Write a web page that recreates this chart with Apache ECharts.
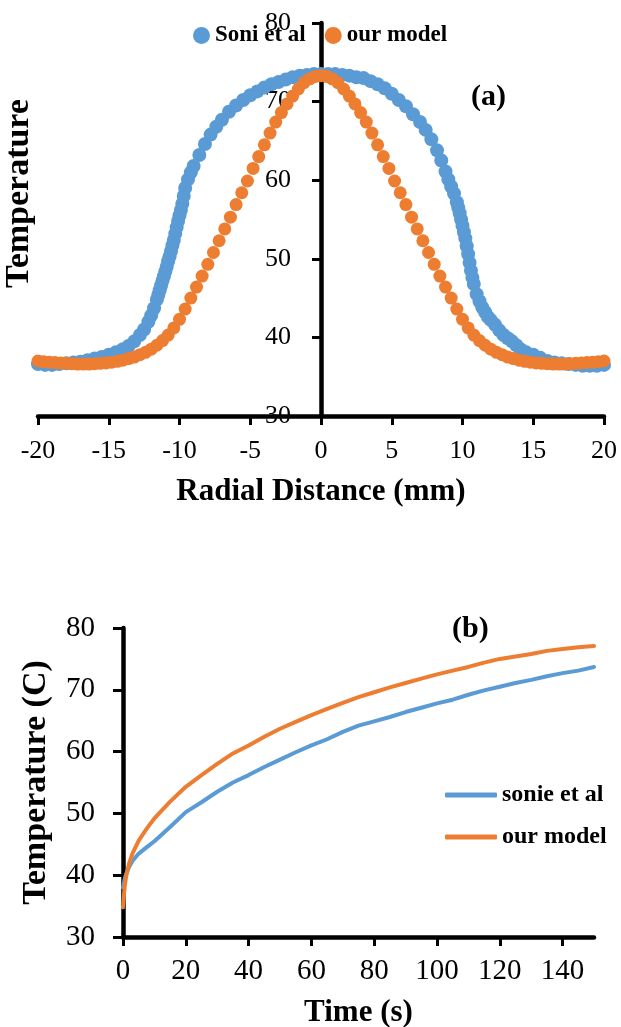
<!DOCTYPE html>
<html>
<head>
<meta charset="utf-8">
<script src="https://cdn.jsdelivr.net/npm/echarts@6/dist/echarts.min.js"></script>
<style>
  html, body { margin: 0; padding: 0; background: #fff; }
  #chart { width: 621px; height: 1027px; }
</style>
</head>
<body>
<div id="chart"></div>
<script>
// ---- (a) radial temperature profile ----
const radialTicks = [-20, -15, -10, -5, 0, 5, 10, 15, 20];

const soniX = [-20, -19.5, -19, -18.5, -18, -17.5, -17, -16.5, -16, -15.5, -15, -14.5, -14, -13.6, -13.2, -12.8, -12.5, -12.2, -12.0, -11.8, -11.6, -11.5, -11.4, -11.3, -11.2, -11.1, -11.0, -10.9, -10.8, -10.7, -10.6, -10.5, -10.4, -10.3, -10.2, -10.1, -10.0, -9.9, -9.8, -9.7, -9.6, -9.4, -9.2, -9.0, -8.6, -8.2, -7.8, -7.4, -7.0, -6.5, -6.0, -5.5, -5.0, -4.5, -4.0, -3.5, -3.0, -2.5, -2.0, -1.5, -1.0, -0.5, 0,
  0.5, 1.0, 1.5, 2.0, 2.5, 3.0, 3.5, 4.0, 4.5, 5.0, 5.5, 6.0, 6.5, 7.0, 7.4, 7.8, 8.2, 8.5, 8.8, 9.0, 9.2, 9.4, 9.6, 9.7, 9.8, 9.9, 10.0, 10.1, 10.2, 10.3, 10.4, 10.5, 10.6, 10.7, 10.8, 11.0, 11.2, 11.4, 11.6, 11.8, 12.0, 12.3, 12.6, 12.9, 13.2, 13.5, 13.8, 14.1, 14.5, 15.0, 15.5, 16.0, 16.5, 17.0, 17.5, 18.0, 18.5, 19.0, 19.5, 20.0];
const soniT = [36.6, 36.5, 36.5, 36.6, 36.7, 36.8, 36.9, 37.1, 37.3, 37.5, 37.8, 38.1, 38.5, 38.9, 39.5, 40.3, 41.0, 42.0, 42.8, 43.7, 44.8, 45.4, 46.0, 46.6, 47.2, 47.8, 48.4, 49.0, 49.7, 50.3, 51.0, 51.7, 52.4, 53.2, 54.0, 54.8, 55.5, 56.2, 57.0, 58.0, 59.0, 60.1, 61.0, 61.8, 63.2, 64.6, 65.8, 66.8, 67.7, 68.7, 69.5, 70.2, 70.8, 71.3, 71.8, 72.2, 72.5, 72.8, 73.1, 73.3, 73.4, 73.5, 73.5,
  73.5, 73.5, 73.4, 73.3, 73.1, 73.0, 72.6, 72.2, 71.7, 71.0, 70.2, 69.4, 68.4, 67.4, 66.4, 65.2, 63.8, 62.5, 61.1, 60.1, 59.2, 58.3, 57.2, 56.5, 55.8, 55.0, 54.2, 53.4, 52.6, 51.6, 50.6, 49.5, 48.5, 47.6, 46.8, 45.5, 44.6, 43.8, 43.2, 42.6, 42.2, 41.6, 40.9, 40.3, 39.9, 39.5, 39.0, 38.5, 38.1, 37.8, 37.4, 37.0, 36.8, 36.7, 36.6, 36.5, 36.4, 36.4, 36.4, 36.5];

const modelX = [-20, -19.6, -19.2, -18.8, -18.4, -18, -17.6, -17.2, -16.8, -16.4, -16, -15.6, -15.2, -14.8, -14.4, -14, -13.6, -13.2, -12.8, -12.4, -12, -11.6, -11.2, -10.8, -10.4, -10, -9.6, -9.2, -8.8, -8.4, -8, -7.6, -7.2, -6.8, -6.4, -6, -5.6, -5.2, -4.8, -4.4, -4, -3.6, -3.2, -2.8, -2.4, -2, -1.6, -1.2, -0.8, -0.4, 0,
  0.4, 0.8, 1.2, 1.6, 2, 2.4, 2.8, 3.2, 3.6, 4, 4.4, 4.8, 5.2, 5.6, 6, 6.4, 6.8, 7.2, 7.6, 8, 8.4, 8.8, 9.2, 9.6, 10, 10.4, 10.8, 11.2, 11.6, 12, 12.4, 12.8, 13.2, 13.6, 14, 14.4, 14.8, 15.2, 15.6, 16, 16.4, 16.8, 17.2, 17.6, 18, 18.4, 18.8, 19.2, 19.6, 20];
const modelT = [37.0, 36.9, 36.85, 36.8, 36.75, 36.7, 36.65, 36.6, 36.6, 36.6, 36.65, 36.7, 36.75, 36.85, 36.95, 37.1, 37.3, 37.5, 37.8, 38.1, 38.5, 39.0, 39.6, 40.3, 41.2, 42.3, 43.6, 45.0, 46.4, 47.8, 49.3, 50.8, 52.3, 53.8, 55.3, 56.9, 58.4, 59.9, 61.5, 63.0, 64.5, 66.0, 67.4, 68.6, 69.7, 70.7, 71.6, 72.4, 72.9, 73.2, 73.3,
  73.2, 72.9, 72.4, 71.6, 70.7, 69.7, 68.6, 67.4, 66.0, 64.5, 63.0, 61.5, 59.9, 58.4, 56.9, 55.3, 53.8, 52.3, 50.8, 49.3, 47.8, 46.4, 45.0, 43.6, 42.3, 41.2, 40.3, 39.6, 39.0, 38.5, 38.1, 37.8, 37.5, 37.3, 37.1, 36.95, 36.85, 36.75, 36.7, 36.65, 36.6, 36.6, 36.6, 36.65, 36.7, 36.75, 36.8, 36.85, 36.9, 37.0];

// ---- (b) temperature history ----
const timeTicks = [0, 20, 40, 60, 80, 100, 120, 140];
const timeS = [0, 0.5, 1, 2, 3, 5, 7.5, 10, 15, 20, 25, 30, 35, 40, 45, 50, 55, 60, 65, 70, 75, 80, 85, 90, 95, 100, 105, 110, 115, 120, 125, 130, 135, 140, 145, 150];
const sonieTemp = [38.0, 39.3, 40.2, 41.4, 42.3, 43.5, 44.5, 45.5, 47.8, 50.2, 51.8, 53.5, 55.0, 56.2, 57.5, 58.7, 59.9, 61.0, 62.0, 63.2, 64.2, 64.9, 65.6, 66.4, 67.1, 67.8, 68.4, 69.2, 69.9, 70.5, 71.1, 71.6, 72.2, 72.7, 73.1, 73.7];
const modelTemp = [34.8, 38.0, 39.8, 42.0, 43.5, 45.6, 47.5, 49.2, 51.9, 54.3, 56.2, 58.0, 59.7, 61.0, 62.4, 63.7, 64.8, 65.9, 66.9, 67.9, 68.8, 69.6, 70.4, 71.1, 71.8, 72.5, 73.1, 73.7, 74.4, 75.0, 75.4, 75.8, 76.3, 76.6, 76.9, 77.1];

const tempTicks = [30, 40, 50, 60, 70, 80];

const BLUE = '#5B9BD5';
const ORANGE = '#ED7D31';
const FONT = '"Liberation Serif", "Times New Roman", serif';

const zip = (xs, ys) => xs.map((x, i) => [x, ys[i]]);

const axisLineStyle = { color: '#000', width: 4.5 };
const tickStyle = { color: '#000', width: 3 };
const labelStyle = (size, margin) => ({ color: '#000', fontFamily: FONT, fontSize: size, margin: margin });
const nameStyle = (size) => ({ color: '#000', fontFamily: FONT, fontSize: size, fontWeight: 'bold' });

// plot areas
const gridA = { left: 38, top: 23, width: 566, height: 393 };
const gridB = { left: 123, top: 628, width: 471, height: 309 };

const chart = echarts.init(document.getElementById('chart'), null, { renderer: 'canvas' });

chart.setOption({
  animation: false,
  backgroundColor: '#fff',
  grid: [
    Object.assign({ outerBoundsMode: 'none', containLabel: false }, gridA),
    Object.assign({ outerBoundsMode: 'none', containLabel: false }, gridB)
  ],
  legend: [
    {
      data: ['Soni et al', 'our model'],
      left: 193, top: 24, padding: 0,
      icon: 'circle', itemWidth: 17, itemHeight: 17, itemGap: 19,
      selectedMode: false,
      textStyle: { color: '#000', fontFamily: FONT, fontWeight: 'bold', fontSize: 23 }
    },
    {
      data: ['sonie et al', 'our model'],
      orient: 'vertical',
      left: 445, top: 783, padding: 0,
      icon: 'roundRect', itemWidth: 52, itemHeight: 5, itemGap: 18,
      selectedMode: false,
      textStyle: { color: '#000', fontFamily: FONT, fontWeight: 'bold', fontSize: 24 }
    }
  ],
  xAxis: [
    {
      type: 'value', gridIndex: 0,
      min: -20, max: 20, interval: 5,
      axisLine: { onZero: false, lineStyle: axisLineStyle },
      axisTick: { length: 9, lineStyle: tickStyle, customValues: radialTicks },
      axisLabel: Object.assign(labelStyle(26, 22), { customValues: radialTicks }),
      splitLine: { show: false },
      name: 'Radial Distance (mm)', nameLocation: 'middle', nameGap: 60,
      nameTextStyle: nameStyle(31)
    },
    {
      type: 'value', gridIndex: 1,
      min: 0, max: 150, interval: 20,
      axisLine: { onZero: false, lineStyle: axisLineStyle },
      axisTick: { length: 9, lineStyle: tickStyle, customValues: timeTicks },
      axisLabel: Object.assign(labelStyle(29, 20), { customValues: timeTicks }),
      splitLine: { show: false },
      name: 'Time (s)', nameLocation: 'middle', nameGap: 60,
      nameTextStyle: nameStyle(31)
    }
  ],
  yAxis: [
    {
      // vertical axis crosses the radial axis at 0 mm, the centre of the plot
      type: 'value', gridIndex: 0,
      offset: -gridA.width / 2,
      min: 30, max: 80, interval: 10,
      axisLine: { onZero: false, lineStyle: axisLineStyle },
      axisTick: { length: 9, lineStyle: tickStyle, customValues: tempTicks },
      axisLabel: Object.assign(labelStyle(26, 30), { customValues: tempTicks }),
      splitLine: { show: false },
      name: 'Temperature', nameLocation: 'middle', nameGap: 285,
      // title sits a little above the middle of the axis
      nameTextStyle: Object.assign(nameStyle(34), { padding: [0, 0, 0, 52] })
    },
    {
      type: 'value', gridIndex: 1,
      min: 30, max: 80, interval: 10,
      axisLine: { onZero: false, lineStyle: axisLineStyle },
      axisTick: { length: 10, lineStyle: tickStyle, customValues: tempTicks },
      axisLabel: Object.assign(labelStyle(29, 28), { customValues: tempTicks }),
      splitLine: { show: false },
      name: 'Temperature (C)', nameLocation: 'middle', nameGap: 70,
      nameTextStyle: nameStyle(34)
    }
  ],
  graphic: [
    { type: 'text', left: 471, top: 82,
      style: { text: '(a)', fill: '#000', font: 'bold 30px ' + FONT } },
    { type: 'text', left: 452, top: 614,
      style: { text: '(b)', fill: '#000', font: 'bold 30px ' + FONT } }
  ],
  series: [
    {
      name: 'Soni et al', type: 'scatter',
      xAxisIndex: 0, yAxisIndex: 0,
      symbol: 'circle', symbolSize: 14,
      itemStyle: { color: BLUE, opacity: 1 },
      data: zip(soniX, soniT), z: 2
    },
    {
      name: 'our model', type: 'scatter',
      xAxisIndex: 0, yAxisIndex: 0,
      symbol: 'circle', symbolSize: 13,
      itemStyle: { color: ORANGE, opacity: 1 },
      data: zip(modelX, modelT), z: 3
    },
    {
      name: 'sonie et al', type: 'line',
      xAxisIndex: 1, yAxisIndex: 1,
      showSymbol: false, symbol: 'none',
      itemStyle: { color: BLUE },
      lineStyle: { color: BLUE, width: 4, cap: 'round', join: 'round' },
      data: zip(timeS, sonieTemp), z: 2
    },
    {
      name: 'our model', type: 'line',
      xAxisIndex: 1, yAxisIndex: 1,
      showSymbol: false, symbol: 'none',
      itemStyle: { color: ORANGE },
      lineStyle: { color: ORANGE, width: 4, cap: 'round', join: 'round' },
      data: zip(timeS, modelTemp), z: 3
    }
  ]
});
</script>
</body>
</html>
